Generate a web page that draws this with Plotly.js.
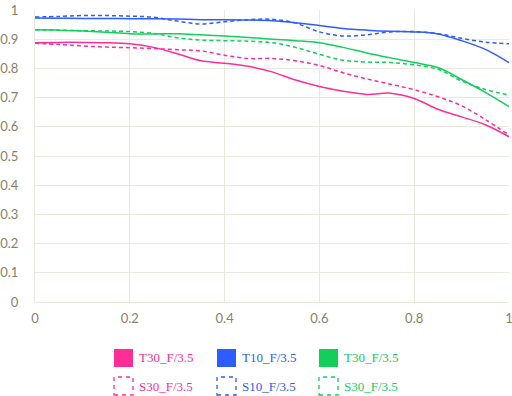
<!DOCTYPE html>
<html><head><meta charset="utf-8">
<script src="https://cdn.plot.ly/plotly-3.0.1.min.js"></script>
<style>html,body{margin:0;padding:0;background:#fff}#c{width:512px;height:396px}</style>
</head><body><div id="c"></div>
<script>
const xs = [0,0.05,0.1,0.15,0.2,0.25,0.3,0.35,0.4,0.45,0.5,0.55,0.6,0.65,0.7,0.75,0.8,0.85,0.9,0.95,1];
const blueT10 = [0.973,0.972,0.971,0.971,0.970,0.970,0.969,0.967,0.967,0.966,0.963,0.956,0.947,0.937,0.931,0.927,0.925,0.918,0.895,0.865,0.820];
const blueS10 = [0.976,0.978,0.981,0.981,0.979,0.975,0.962,0.952,0.960,0.967,0.968,0.955,0.925,0.911,0.915,0.925,0.926,0.919,0.903,0.890,0.884];
const greenT30 = [0.932,0.931,0.928,0.924,0.919,0.918,0.919,0.915,0.911,0.906,0.900,0.895,0.888,0.872,0.853,0.836,0.820,0.803,0.762,0.718,0.669];
const greenS30 = [0.932,0.931,0.929,0.928,0.926,0.920,0.905,0.897,0.895,0.893,0.888,0.872,0.848,0.828,0.822,0.820,0.812,0.797,0.757,0.728,0.709];
const pinkT30 = [0.888,0.889,0.889,0.888,0.884,0.872,0.850,0.826,0.818,0.807,0.788,0.760,0.738,0.722,0.711,0.715,0.697,0.660,0.634,0.607,0.566];
const pinkS30 = [0.886,0.882,0.877,0.873,0.871,0.868,0.864,0.860,0.845,0.834,0.834,0.826,0.810,0.785,0.764,0.746,0.727,0.703,0.672,0.625,0.572];
const names = ["T30_F/3.5","T10_F/3.5","T30_F/3.5","S30_F/3.5","S10_F/3.5","S30_F/3.5"];
const xTicks = [0,0.2,0.4,0.6,0.8,1];
const xTickText = ["0","0.2","0.4","0.6","0.8","1"];
const yTicks = [0,0.1,0.2,0.3,0.4,0.5,0.6,0.7,0.8,0.9,1];
const yTickText = ["0","0.1","0.2","0.3","0.4","0.5","0.6","0.7","0.8","0.9","1"];

const PINK = "#ff2e96", BLUE = "#2d5cff", GREEN = "#12cf5c";
const series = [
  {y: pinkT30, c: PINK, dash: "solid", n: names[0]},
  {y: blueT10, c: BLUE, dash: "solid", n: names[1]},
  {y: greenT30, c: GREEN, dash: "solid", n: names[2]},
  {y: pinkS30, c: PINK, dash: "4px,3px", n: names[3]},
  {y: blueS10, c: BLUE, dash: "4px,3px", n: names[4]},
  {y: greenS30, c: GREEN, dash: "4px,3px", n: names[5]}
];
const traces = series.map(s => ({
  x: xs, y: s.y, type: "scatter", mode: "lines", name: s.n,
  line: {color: s.c, width: 1.5, dash: s.dash, shape: "spline", smoothing: 1},
  showlegend: false, hoverinfo: "skip"
}));

const L = 35, R = 509, T = 10, B = 302;
const px = v => (v - L) / (R - L);
const py = v => (B - v) / (B - T);
const shapes = [], annotations = [];
const colX = [114, 217, 319];
const rowY = [[349, 367], [377, 395]];
series.forEach((s, i) => {
  const col = i % 3, row = Math.floor(i / 3);
  const x0 = colX[col], y0 = rowY[row][0], y1 = rowY[row][1];
  shapes.push({
    type: "rect", xref: "paper", yref: "paper",
    x0: px(x0), x1: px(x0 + 19), y0: py(y1), y1: py(y0),
    fillcolor: row === 0 ? s.c : "rgba(0,0,0,0)",
    line: {color: s.c, width: row === 0 ? 0 : 1.3, dash: row === 0 ? "solid" : "4px,4px"}
  });
  annotations.push({
    xref: "paper", yref: "paper", x: px(x0 + 23), y: py((y0 + y1) / 2),
    xanchor: "left", yanchor: "middle", showarrow: false, text: s.n,
    font: {family: "Liberation Serif, serif", size: 13, color: s.c}
  });
});

const grid = "#ece8df";
const tickFont = {family: "Lato, sans-serif", size: 13, color: "#8a7f68"};
const layout = {
  width: 512, height: 396,
  margin: {l: L, r: 512 - R, t: T, b: 396 - B},
  paper_bgcolor: "#fff", plot_bgcolor: "#fff",
  showlegend: false,
  xaxis: {range: [0, 1], tickvals: xTicks, ticktext: xTickText, showgrid: true, gridcolor: grid, gridwidth: 1,
          zeroline: false, showline: true, linecolor: grid, linewidth: 1, ticks: "", tickfont: tickFont,
          ticklabelstandoff: 4, ticklabeloverflow: "allow", fixedrange: true},
  yaxis: {range: [0, 1], tickvals: yTicks, ticktext: yTickText, showgrid: true, gridcolor: grid, gridwidth: 1,
          zeroline: false, showline: true, linecolor: grid, linewidth: 1, ticks: "", tickfont: tickFont,
          ticklabelstandoff: 13, ticklabeloverflow: "allow", fixedrange: true},
  shapes: shapes, annotations: annotations
};
Plotly.newPlot("c", traces, layout, {staticPlot: true, displayModeBar: false});
</script></body></html>
